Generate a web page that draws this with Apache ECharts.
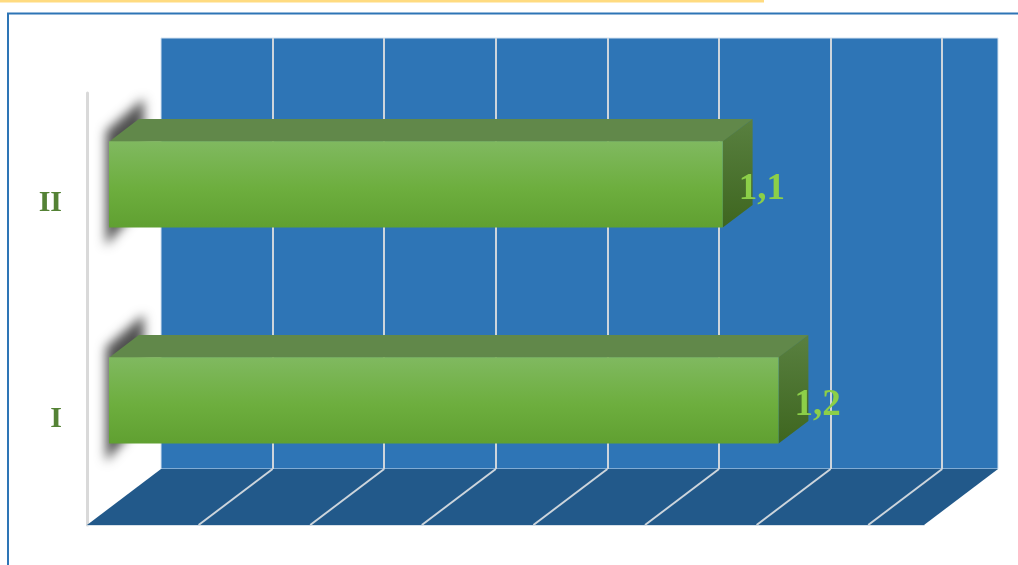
<!DOCTYPE html>
<html>
<head>
<meta charset="utf-8">
<style>html,body{margin:0;padding:0;background:#fff}#c{width:1018px;height:565px}</style>
<script src="https://cdn.jsdelivr.net/npm/echarts@6/dist/echarts.min.js"></script>
</head>
<body>
<div id="c"></div>
<script>
const categories = ['I', 'II'];
const values = [1.2, 1.1];
const gridTicks = [0.2, 0.4, 0.6, 0.8, 1.0, 1.2, 1.4];
const axisMax = 1.5;
const tickStep = 0.2;

const DX = 74, DY = -56, NEAR = 0.297, FAR = 0.7, BAR_RATIO = 0.4;
const SERIF = '"Liberation Serif","Times New Roman",serif';
const grad = (a, b, c) => ({type: 'linear', x: 0, y: 0, x2: 0, y2: 1,
  colorStops: [{offset: 0, color: a}, {offset: 0.55, color: b}, {offset: 1, color: c}]});

function renderFloor(params, api) {
  const a = api.coord([0, 0]), b = api.coord([axisMax, 0]);
  const y = a[1] + api.size([0, 1])[1] / 2;
  return {type: 'polygon', silent: true,
    shape: {points: [[a[0], y], [b[0], y], [b[0] + DX, y + DY], [a[0] + DX, y + DY]]},
    style: {fill: '#22598a'}};
}
function renderFloorLine(params, api) {
  const p = api.coord([api.value(0), 0]);
  const y = p[1] + api.size([0, 1])[1] / 2;
  return {type: 'line', silent: true,
    shape: {x1: p[0], y1: y, x2: p[0] + DX, y2: y + DY},
    style: {stroke: '#cdd5dc', lineWidth: 2}};
}
function renderBar(params, api) {
  const v = api.value(0), idx = api.value(1);
  const s = api.coord([0, idx]), e = api.coord([v, idx]);
  const h = api.size([0, 1])[1] * BAR_RATIO;
  const nx = DX * NEAR, ny = DY * NEAR;
  const l = s[0] + nx, r = e[0] + nx, t = s[1] + ny - h / 2, b = s[1] + ny + h / 2;
  const dx = DX * (FAR - NEAR), dy = DY * (FAR - NEAR);
  const OFF = 3000;
  return {type: 'group', silent: true, children: [
    {type: 'polygon', shape: {points: [[l - 3 - OFF, t - 10], [l + dx + 5 - OFF, t + dy - 20], [l + dx + 5 - OFF, b - 25], [l - 3 - OFF, b + 18]]},
      style: {fill: '#000', shadowBlur: 11, shadowColor: 'rgba(80,80,80,1)', shadowOffsetX: OFF}},
    {type: 'polygon', shape: {points: [[l, t + 0.5], [r, t + 0.5], [r + dx, t + dy + 0.5], [l + dx, t + dy + 0.5]]},
      style: {fill: '#61884a'}},
    {type: 'polygon', shape: {points: [[r, t], [r + dx, t + dy + 0.5], [r + dx, b + dy], [r, b]]},
      style: {fill: {type: 'linear', x: 0, y: 0, x2: 0, y2: 1,
        colorStops: [{offset: 0, color: '#598040'}, {offset: 1, color: '#3e661f'}]}}},
    {type: 'rect', shape: {x: l, y: t, width: r - l, height: b - t},
      style: {fill: grad('#80b960', '#6dae3e', '#60a031')}},
    {type: 'text', style: {x: r + 16, y: s[1] + ny + 5, text: String(v).replace('.', ','),
      fill: '#8ccf48', font: 'bold 37px ' + SERIF, textAlign: 'left', verticalAlign: 'middle'}}
  ]};
}

const chart = echarts.init(document.getElementById('c'), null, {renderer: 'canvas'});
chart.setOption({
  animation: false,
  backgroundColor: '#fff',
  graphic: [
    {type: 'rect', silent: true, z: 0, shape: {x: -2, y: 0, width: 766, height: 2.5},
      style: {fill: '#ffdb80'}},
    {type: 'rect', silent: true, z: 0, shape: {x: 8, y: 13.5, width: 1020, height: 570},
      style: {fill: 'transparent', stroke: '#2e75b6', lineWidth: 2}}
  ],
  grid: [
    {left: 87, top: 93, width: 837, height: 432},
    {left: 161, top: 38, width: 837, height: 431, show: true,
      backgroundColor: '#2e75b6', borderColor: '#d3e2f0', borderWidth: 1}
  ],
  xAxis: [
    {gridIndex: 0, type: 'value', min: 0, max: axisMax, interval: tickStep,
      axisLabel: {show: false}, axisTick: {show: false}, splitLine: {show: false},
      axisLine: {show: true, lineStyle: {color: '#c9d6e2', width: 1.5}}},
    {gridIndex: 1, type: 'value', min: 0, max: axisMax, interval: tickStep,
      axisLabel: {show: false}, axisTick: {show: false}, axisLine: {show: false},
      splitLine: {show: true, showMinLine: false, showMaxLine: false,
        lineStyle: {color: '#cdd5dc', width: 2, type: 'solid'}}}
  ],
  yAxis: [
    {gridIndex: 0, type: 'category', data: categories,
      axisTick: {show: false}, splitLine: {show: false},
      axisLine: {show: true, onZero: false, lineStyle: {color: '#d9d9d9', width: 3}},
      axisLabel: {margin: 25, formatter: '{a|{value}}',
        rich: {a: {color: '#548235', fontFamily: SERIF, fontWeight: 'bold', fontSize: 30, padding: [5, 0, 0, 0]}}}},
    {gridIndex: 1, type: 'category', data: categories, show: false}
  ],
  series: [
    {type: 'custom', name: 'floor', xAxisIndex: 0, yAxisIndex: 0, z: 2, clip: false,
      renderItem: renderFloor, data: [[axisMax, 0]], encode: {x: 0, y: 1}},
    {type: 'custom', name: 'floorLines', xAxisIndex: 0, yAxisIndex: 0, z: 3, clip: false,
      renderItem: renderFloorLine, data: gridTicks.map(t => [t, 0]), encode: {x: 0, y: 1}},
    {type: 'custom', name: 'bars', xAxisIndex: 0, yAxisIndex: 0, z: 4, clip: false,
      renderItem: renderBar, data: values.map((v, i) => [v, i]), encode: {x: 0, y: 1}}
  ]
});
</script>
</body>
</html>
